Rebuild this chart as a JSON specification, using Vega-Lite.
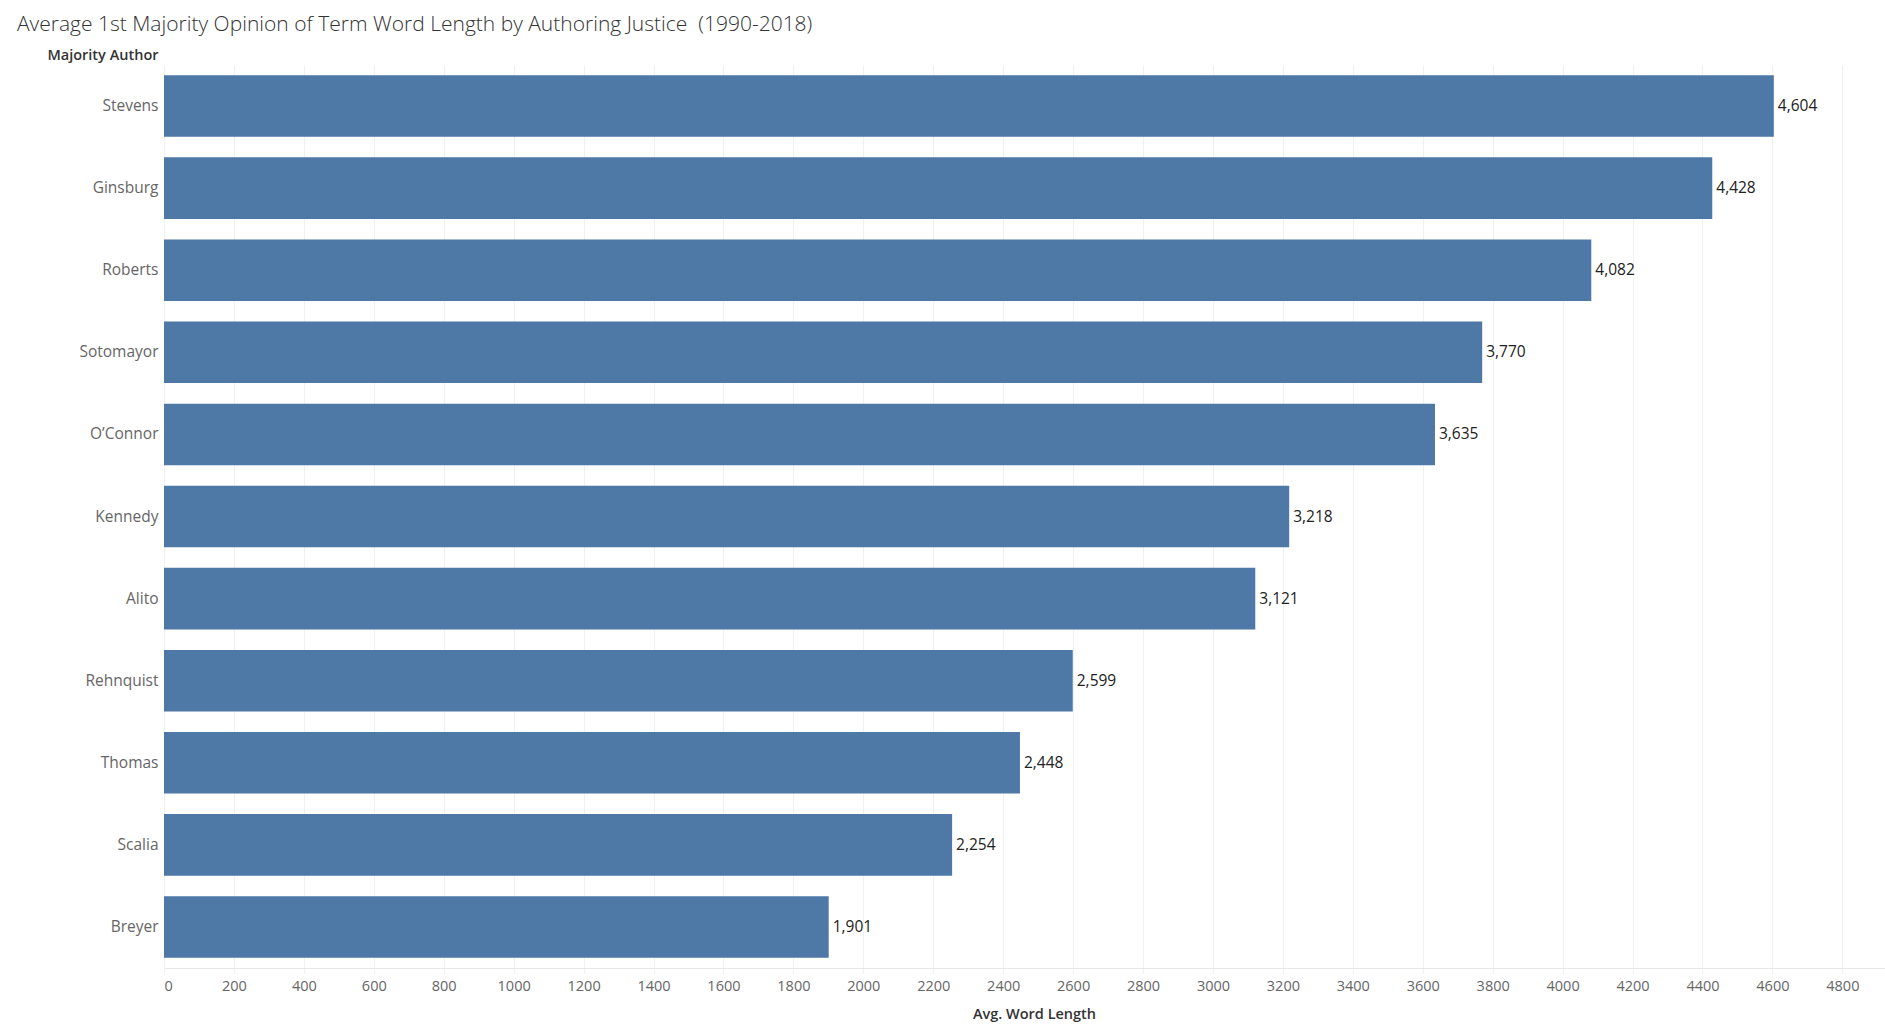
{
  "$schema": "https://vega.github.io/schema/vega-lite/v6.json",
  "autosize": {"type": "none"},
  "padding": {"left": 164, "top": 65, "right": 0, "bottom": 65},
  "width": 1721,
  "height": 903,
  "background": "white",
  "title": {
    "text": "Average 1st Majority Opinion of Term Word Length by Authoring Justice\u00a0 (1990-2018)",
    "anchor": "start",
    "frame": "group",
    "dx": -147,
    "offset": 12,
    "font": "Open Sans",
    "fontWeight": 300,
    "fontSize": 21,
    "color": "#333333"
  },
  "data": {
    "values": [
      {"author": "Stevens", "length": 4604},
      {"author": "Ginsburg", "length": 4428},
      {"author": "Roberts", "length": 4082},
      {"author": "Sotomayor", "length": 3770},
      {"author": "O’Connor", "length": 3635},
      {"author": "Kennedy", "length": 3218},
      {"author": "Alito", "length": 3121},
      {"author": "Rehnquist", "length": 2599},
      {"author": "Thomas", "length": 2448},
      {"author": "Scalia", "length": 2254},
      {"author": "Breyer", "length": 1901}
    ]
  },
  "config": {
    "view": {"stroke": null},
    "font": "Open Sans"
  },
  "encoding": {
    "y": {
      "field": "author",
      "type": "nominal",
      "sort": {"field": "length", "order": "descending"},
      "scale": {"paddingInner": 0.25, "paddingOuter": 0.125},
      "axis": {
        "title": "Majority Author",
        "titleAngle": 0,
        "titleAlign": "right",
        "titleBaseline": "middle",
        "titleX": -6,
        "titleY": -10,
        "titleFont": "Open Sans",
        "titleFontWeight": 600,
        "titleFontSize": 14.5,
        "titleColor": "#333333",
        "labelFont": "Open Sans",
        "labelFontSize": 15.5,
        "labelColor": "#666666",
        "labelPadding": 6,
        "ticks": false,
        "domain": false,
        "grid": false
      }
    },
    "x": {
      "field": "length",
      "type": "quantitative",
      "scale": {"domain": [0, 4922], "nice": false, "zero": true},
      "axis": {
        "title": "Avg. Word Length",
        "values": [0,200,400,600,800,1000,1200,1400,1600,1800,2000,2200,2400,2600,2800,3000,3200,3400,3600,3800,4000,4200,4400,4600,4800],
        "format": "d",
        "titleFont": "Open Sans",
        "titleFontWeight": 600,
        "titleFontSize": 14.5,
        "titleColor": "#333333",
        "titlePadding": 15,
        "titleX": 870,
        "titleAlign": "center",
        "labelFont": "Open Sans",
        "labelFontSize": 14.5,
        "labelColor": "#666666",
        "labelPadding": 6,
        "grid": true,
        "gridColor": "#f0f0f0",
        "domainColor": "#e6e6e6",
        "tickColor": "#f0f0f0",
        "tickSize": 5
      }
    }
  },
  "layer": [
    {"mark": {"type": "bar", "color": "#4e79a7"}},
    {
      "mark": {"type": "text", "align": "left", "baseline": "middle", "dx": 4, "font": "Open Sans", "fontSize": 15.5, "color": "#222222"},
      "encoding": {"text": {"field": "length", "type": "quantitative", "format": ","}}
    }
  ]
}
